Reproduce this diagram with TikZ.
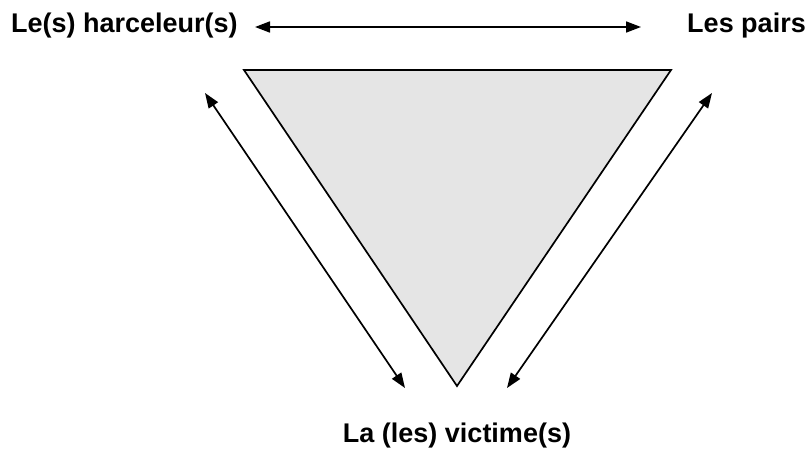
\documentclass[tikz,border=0pt]{standalone}
\usepackage{fontspec}
\setmainfont{Liberation Sans}
\usetikzlibrary{arrows.meta}
\begin{document}
\begin{tikzpicture}[x=1pt,y=-1pt,
  lbl/.style={font=\bfseries\fontsize{27}{30}\selectfont, inner sep=0pt},
  dbl/.style={line width=1.7pt, {Triangle[length=15pt,width=11pt]}-{Triangle[length=15pt,width=11pt]}},
  tri/.style={draw=black, line width=1.7pt, fill=black!10}]
\useasboundingbox (0,0) rectangle (809,455);
\node[lbl, anchor=west] (har) at (11,26) {Le(s) harceleur(s)};
\node[lbl, anchor=east] (pairs) at (806,26) {Les pairs};
\node[lbl] (vic) at (457,436) {La (les) victime(s)};
\coordinate (h1) at (255,27);
\coordinate (h2) at (641,27);
\coordinate (l1) at (205,93);
\coordinate (l2) at (405,388);
\coordinate (r1) at (712,93);
\coordinate (r2) at (507,388);
\coordinate (tA) at (244,70);
\coordinate (tB) at (671,70);
\coordinate (tC) at (457,386);
\draw[tri] (tA) -- (tB) -- (tC) -- cycle;
\draw[dbl] (h1) -- (h2);
\draw[dbl] (l1) -- (l2);
\draw[dbl] (r1) -- (r2);
\end{tikzpicture}
\end{document}
